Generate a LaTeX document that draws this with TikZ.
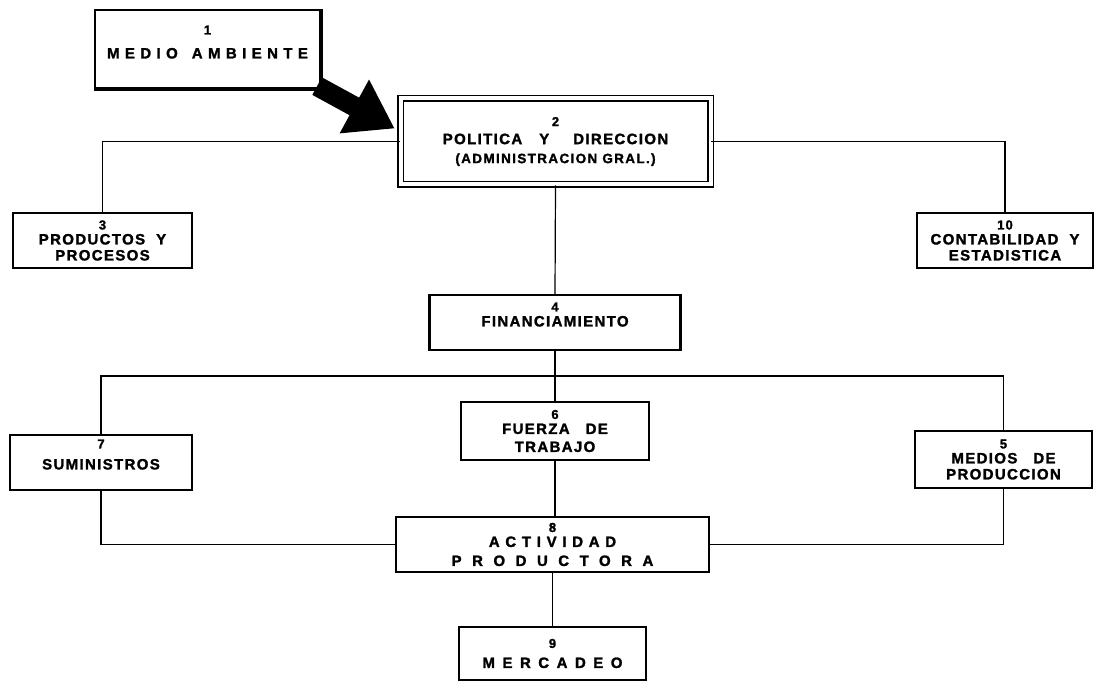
\documentclass[tikz,border=0pt]{standalone}
\usepackage{fontspec}
\setmainfont{Liberation Sans}[LetterSpace=9, BoldFeatures={FakeBold=1.6}]
\usetikzlibrary{arrows.meta}
\newcommand{\num}[1]{{\fontsize{13}{14}\selectfont #1}}
\newcommand{\tracked}[2]{{\addfontfeatures{LetterSpace=#1}#2}}
\tikzset{
  box/.style={draw, line width=2.2pt, align=center, inner sep=0pt,
    font=\bfseries\fontsize{15}{16}\selectfont},
  wire/.style={line width=1.2pt}
}
\begin{document}
\begin{tikzpicture}[x=1pt, y=-1pt]
  \useasboundingbox (0,0) rectangle (1097,684);
  % boxes
  \node[box, minimum width=225, minimum height=78] (ambiente) at (207.5,49)
    {\num{1}\\[8pt]\tracked{36}{MEDIO}\hspace{14pt}\tracked{36}{AMBIENTE}\\[-2pt]\mbox{}};
  \node[box, line width=1.6pt, double, double distance=4pt,
    minimum width=310, minimum height=86] (politica) at (555.5,141.5)
    {\num{2}\\[2pt]POLITICA\hspace{17pt}Y\hspace{24pt}DIRECCION\\[3pt]
     {\fontsize{13.5}{14}\selectfont\tracked{10}{(ADMINISTRACION GRAL.)}}};
  \node[box, minimum width=179, minimum height=55] (productos) at (102.5,240.5)
    {\num{3}\\[-1pt]PRODUCTOS\ \ Y\\PROCESOS};
  \node[box, minimum width=176, minimum height=55] (contab) at (1005,240.5)
    {\num{10}\\[-1pt]CONTABILIDAD\ \ Y\\ESTADISTICA};
  \node[box, minimum width=251, minimum height=55] (financ) at (555,322.5)
    {\num{4}\\[-1pt]FINANCIAMIENTO\\\mbox{}};
  \node[box, minimum width=182, minimum height=55] (sumin) at (101,462.5)
    {\num{7}\\[5pt]SUMINISTROS\\\mbox{}};
  \node[box, minimum width=188, minimum height=58] (fuerza) at (555,431)
    {\num{6}\\[-1pt]FUERZA\hspace{16pt}DE\\[2pt]TRABAJO};
  \node[box, minimum width=177, minimum height=57] (medios) at (1003.5,459.5)
    {\num{5}\\[-1pt]MEDIOS\hspace{16pt}DE\\PRODUCCION};
  \node[box, minimum width=313, minimum height=55] (activ) at (552.5,544.5)
    {\num{8}\\[-1pt]\tracked{38}{ACTIVIDAD}\\[3pt]\tracked{70}{PRODUCTORA}};
  \node[box, minimum width=187, minimum height=53] (mercadeo) at (552.5,653.5)
    {\num{9}\\[4pt]\tracked{50}{MERCADEO}};
  % heavy shadow on box 1
  \draw[line width=4pt] (ambiente.north east) -- (ambiente.south east)
    -- (ambiente.south west); %
  % big arrow into box 2
  \coordinate (hit) at ([xshift=-5pt, yshift=13pt]politica.west);
  \draw[line width=20pt, -{Triangle[length=46pt, width=58pt]}]
    ([xshift=-4pt, yshift=3pt]ambiente.south east) -- (hit); %
  % connectors
  \coordinate (bus) at (555,376);
  \draw[wire] (politica.west) -| (productos.north); %
  \draw[wire] (politica.east) -| (contab.north); %
  \draw[wire] (politica.south) -- (financ.north); %
  \draw[wire] (financ.south) -- (fuerza.north); %
  \draw[wire] (sumin.north) |- (bus) -| (medios.north); %
  \draw[wire] (fuerza.south) -- (fuerza.south |- activ.north); %
  \draw[wire] (sumin.south) |- (activ.west); %
  \draw[wire] (medios.south) |- (activ.east); %
  \draw[wire] (activ.south) -- (mercadeo.north); %
\end{tikzpicture}
\end{document}
